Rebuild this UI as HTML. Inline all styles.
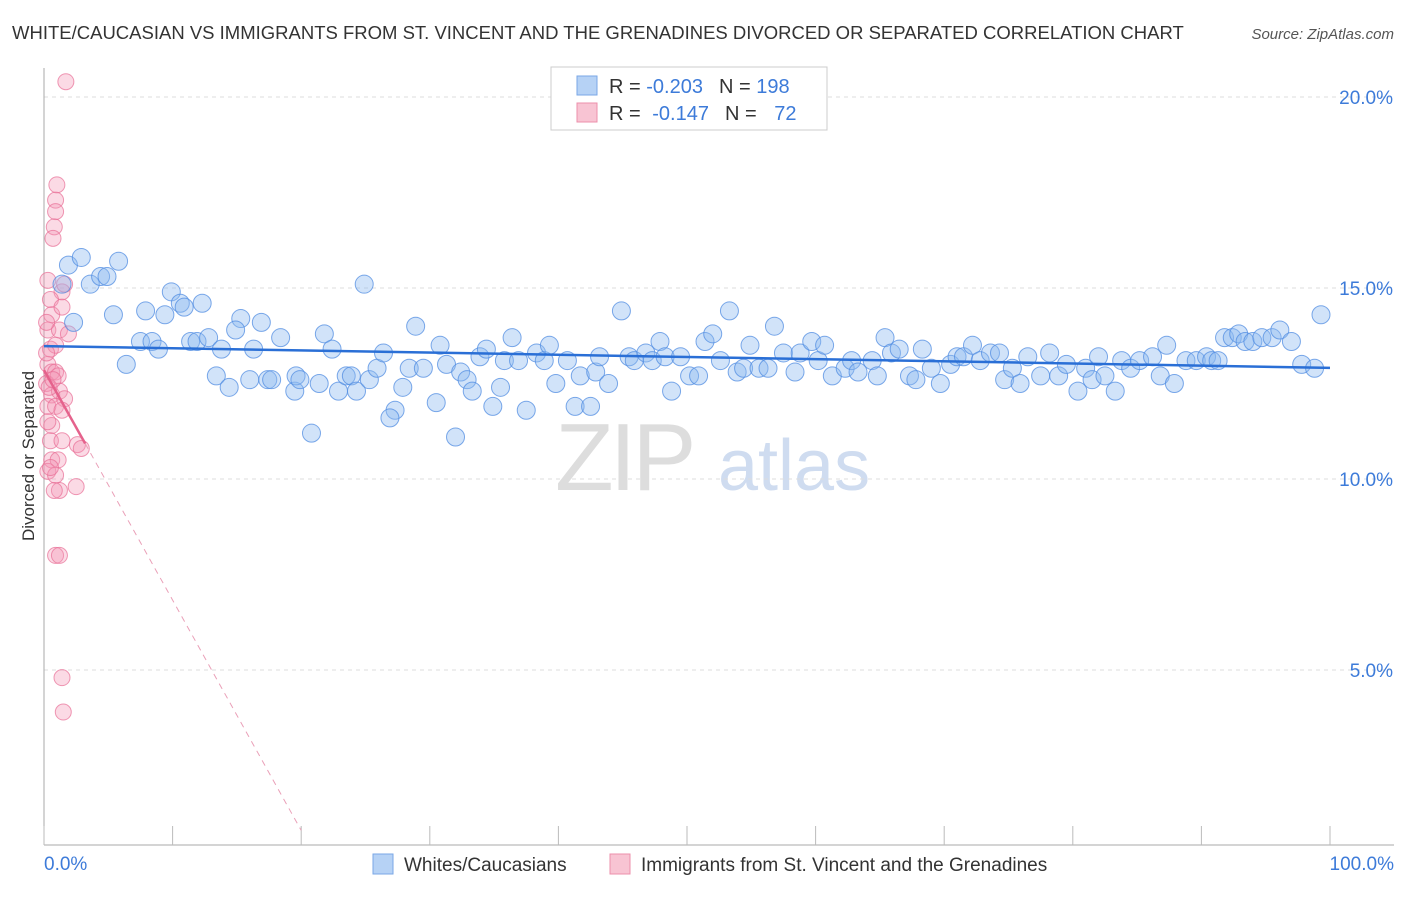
<!DOCTYPE html>
<html><head><meta charset="utf-8"><style>
body{margin:0;background:#fff;font-family:"Liberation Sans",sans-serif;}
svg text{font-family:"Liberation Sans",sans-serif;}
</style></head><body>
<svg id="chart" width="1406" height="892" xmlns="http://www.w3.org/2000/svg">
<text x="12" y="39" font-size="18.5" fill="#333">WHITE/CAUCASIAN VS IMMIGRANTS FROM ST. VINCENT AND THE GRENADINES DIVORCED OR SEPARATED CORRELATION CHART</text>
<text x="1394" y="39" font-size="15" fill="#555" text-anchor="end" font-style="italic">Source: ZipAtlas.com</text>
<text transform="translate(34,456) rotate(-90)" font-size="17" fill="#333" text-anchor="middle">Divorced or Separated</text>
<g><text x="555" y="490" font-size="96" fill="#ddd" font-family="Liberation Serif" letter-spacing="-4">ZIP</text><text x="718" y="490" font-size="72" fill="#cfdcf0">atlas</text></g>
<g id="grid"></g><g id="axes"></g><g id="pink"></g><g id="blue"></g><g id="trend"></g>
<g>
<rect x="551" y="67" width="276" height="63" fill="#fff" stroke="#ccc"/>
<rect x="577" y="76" width="20" height="19" fill="#b6d2f5" stroke="#7aa7e6"/>
<rect x="577" y="103" width="20" height="19" fill="#f8c4d3" stroke="#ec8fab"/>
<text x="609" y="93" font-size="20" fill="#333">R = <tspan fill="#3d7bd9">-0.203</tspan><tspan dx="16">N = </tspan><tspan fill="#3d7bd9">198</tspan></text>
<text x="609" y="120" font-size="20" fill="#333">R = <tspan fill="#3d7bd9" dx="6">-0.147</tspan><tspan dx="16">N = </tspan><tspan fill="#3d7bd9" dx="12">72</tspan></text>
</g>
<g>
<rect x="373" y="854" width="20" height="20" fill="#b6d2f5" stroke="#7aa7e6"/>
<text x="404" y="871" font-size="19" fill="#333">Whites/Caucasians</text>
<rect x="610" y="854" width="20" height="20" fill="#f8c4d3" stroke="#ec8fab"/>
<text x="641" y="871" font-size="19" fill="#333">Immigrants from St. Vincent and the Grenadines</text>
</g>
</svg>
<script>
const yTicks=[5,10,15,20];
const yTickLabels=["5.0%","10.0%","15.0%","20.0%"];
const xTicks=[0,10,20,30,40,50,60,70,80,90,100];
const blueX=[1.9,2.9,5.8,3.6,4.4,4.9,1.4,2.3,5.4,7.9,9.9,10.6,10.9,12.3,9.4,15.3,16.9,14.9,24.9,7.5,8.4,8.9,6.4,11.4,11.9,12.8,13.8,16.3,18.4,21.8,22.4,13.4,14.4,16.0,17.4,17.7,19.5,19.6,19.9,21.4,20.8,22.9,23.5,23.9,24.3,25.3,25.9,26.4,27.9,27.3,26.9,28.4,28.9,29.5,30.5,30.8,31.3,32.0,32.4,32.9,33.3,33.9,34.4,34.9,35.5,35.8,36.4,36.9,37.5,38.3,38.9,39.3,39.8,40.7,41.3,41.7,42.5,42.9,43.9,43.2,44.9,45.5,45.9,46.8,47.3,47.9,48.3,48.8,49.5,50.2,50.9,51.4,52.0,52.6,53.3,53.9,54.4,54.9,55.6,56.3,56.8,57.5,58.4,58.8,59.7,60.2,60.7,61.3,62.3,62.8,63.3,64.4,64.8,65.4,65.9,66.5,67.3,67.8,68.3,69.0,69.7,70.5,71.0,71.5,72.2,72.8,73.6,74.3,74.7,75.3,75.9,76.5,77.5,78.2,78.9,79.5,80.4,81.0,81.5,82.0,82.5,83.3,83.8,84.5,85.2,86.2,86.8,87.3,87.9,88.8,89.6,90.4,90.8,91.3,91.8,92.4,92.9,93.4,94.0,94.7,95.5,96.1,97.0,97.8,98.8,99.3];
const blueY=[15.6,15.8,15.7,15.1,15.3,15.3,15.1,14.1,14.3,14.4,14.9,14.6,14.5,14.6,14.3,14.2,14.1,13.9,15.1,13.6,13.6,13.4,13.0,13.6,13.6,13.7,13.4,13.4,13.7,13.8,13.4,12.7,12.4,12.6,12.6,12.6,12.3,12.7,12.6,12.5,11.2,12.3,12.7,12.7,12.3,12.6,12.9,13.3,12.4,11.8,11.6,12.9,14.0,12.9,12.0,13.5,13.0,11.1,12.8,12.6,12.3,13.2,13.4,11.9,12.4,13.1,13.7,13.1,11.8,13.3,13.1,13.5,12.5,13.1,11.9,12.7,11.9,12.8,12.5,13.2,14.4,13.2,13.1,13.3,13.1,13.6,13.2,12.3,13.2,12.7,12.7,13.6,13.8,13.1,14.4,12.8,12.9,13.5,12.9,12.9,14.0,13.3,12.8,13.3,13.6,13.1,13.5,12.7,12.9,13.1,12.8,13.1,12.7,13.7,13.3,13.4,12.7,12.6,13.4,12.9,12.5,13.0,13.2,13.2,13.5,13.1,13.3,13.3,12.6,12.9,12.5,13.2,12.7,13.3,12.7,13.0,12.3,12.9,12.6,13.2,12.7,12.3,13.1,12.9,13.1,13.2,12.7,13.5,12.5,13.1,13.1,13.2,13.1,13.1,13.7,13.7,13.8,13.6,13.6,13.7,13.7,13.9,13.6,13.0,12.9,14.3];
const pinkX=[1.7,1.0,0.9,0.9,0.8,0.7,0.3,1.4,1.6,0.5,0.6,1.4,0.3,1.2,1.9,0.5,0.9,0.3,0.6,0.9,0.2,0.6,1.2,1.6,0.3,0.9,1.4,0.6,0.5,0.6,1.1,2.6,2.9,0.3,0.9,1.2,2.5,0.9,1.2,1.4,1.5,0.3,0.2,1.1,1.4,0.4,0.7,0.2,0.5,0.8];
const pinkY=[20.4,17.7,17.3,17.0,16.6,16.3,15.2,14.9,15.1,14.7,14.3,14.5,13.9,13.9,13.8,13.4,13.5,13.0,12.8,12.8,12.5,12.2,12.3,12.1,11.9,11.9,11.8,11.4,11.0,10.5,10.5,10.9,10.8,10.2,10.1,9.7,9.8,8.0,8.0,4.8,3.9,11.5,13.3,12.7,11.0,12.4,12.6,14.1,10.3,9.7];
const blueTrend=[[0,13.48],[100,12.91]];
const pinkSolid=[[0,12.85],[3.2,10.93]];
const pinkDash=[[3.2,10.93],[20,0.8]];
const NS="http://www.w3.org/2000/svg";
const X=v=>44+v*12.86, Y=v=>861-v*38.2;
function mk(tag,attrs,parent){const e=document.createElementNS(NS,tag);for(const k in attrs)e.setAttribute(k,attrs[k]);document.getElementById(parent).appendChild(e);return e;}
yTicks.forEach((t,i)=>{
 const l=mk('line',{x1:44,x2:1394,y1:Y(t),y2:Y(t),stroke:'#ddd','stroke-dasharray':'4,4'},'grid');
 
 
 const tx=mk('text',{x:1393,y:Y(t)+7,'font-size':19,fill:'#3d7bd9','text-anchor':'end'},'axes');tx.textContent=yTickLabels[i];
 
 
});
const ax=mk('line',{x1:44,x2:44,y1:68,y2:845,stroke:'#aaa'},'axes');


const bx=mk('line',{x1:44,x2:1394,y1:845,y2:845,stroke:'#aaa'},'axes');


xTicks.forEach(t=>{const l=mk('line',{x1:X(t),x2:X(t),y1:826,y2:845,stroke:'#bbb'},'axes');
 
 });
[[0,'0.0%','start',44],[100,'100.0%','end',1394]].forEach(a=>{const t=mk('text',{x:a[3],y:870,'font-size':19,fill:'#3d7bd9','text-anchor':a[2]},'axes');t.textContent=a[1];
 
 });
pinkX.forEach((v,i)=>{const c=mk('circle',{cx:X(v),cy:Y(pinkY[i]),r:8,fill:'rgba(244,150,180,0.35)',stroke:'rgba(232,110,150,0.7)','stroke-width':1},'pink');
 
 });
blueX.forEach((v,i)=>{const c=mk('circle',{cx:X(v),cy:Y(blueY[i]),r:9,fill:'rgba(140,185,240,0.4)',stroke:'rgba(80,140,225,0.75)','stroke-width':1},'blue');
 
 });
const bt=mk('line',{x1:X(blueTrend[0][0]),y1:Y(blueTrend[0][1]),x2:X(blueTrend[1][0]),y2:Y(blueTrend[1][1]),stroke:'#2a6fd6','stroke-width':2.5},'trend');


const ps=mk('line',{x1:X(pinkSolid[0][0]),y1:Y(pinkSolid[0][1]),x2:X(pinkSolid[1][0]),y2:Y(pinkSolid[1][1]),stroke:'#e5628c','stroke-width':2.5},'trend');


const pd=mk('line',{x1:X(pinkDash[0][0]),y1:Y(pinkDash[0][1]),x2:X(pinkDash[1][0]),y2:Y(pinkDash[1][1]),stroke:'#eaa0b8','stroke-width':1,'stroke-dasharray':'6,5'},'trend');


</script>
</body></html>
